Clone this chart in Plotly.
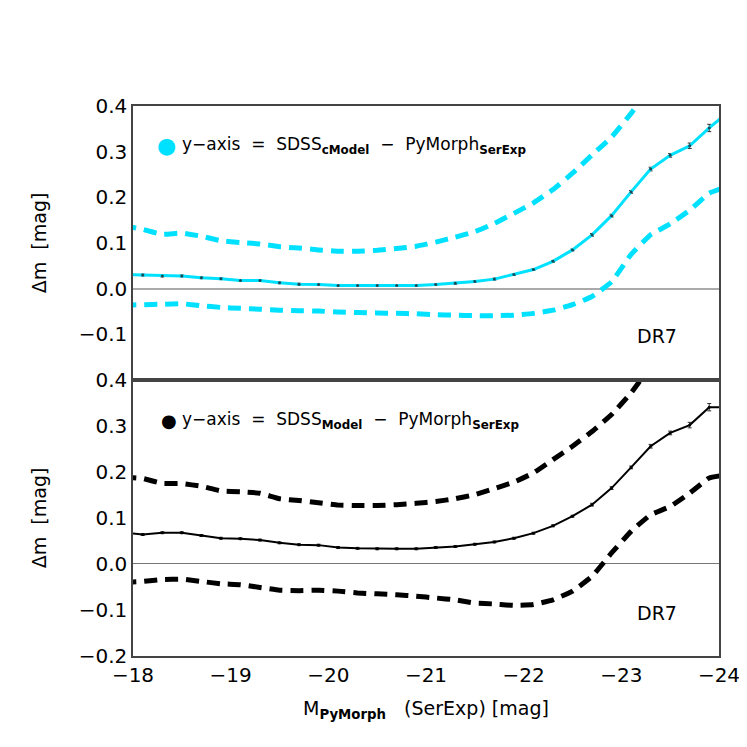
import plotly.graph_objects as go

# bin centres of absolute magnitude M_PyMorph (SerExp)
mag_bins = [-17.9, -18.1, -18.3, -18.5, -18.7, -18.9, -19.1, -19.3, -19.5, -19.7,
            -19.9, -20.1, -20.3, -20.5, -20.7, -20.9, -21.1, -21.3, -21.5, -21.7,
            -21.9, -22.1, -22.3, -22.5, -22.7, -22.9, -23.1, -23.3, -23.5, -23.7,
            -23.9, -24.1]

# top panel: SDSS cModel - PyMorph SerExp
cmodel_med = [0.031, 0.030, 0.028, 0.028, 0.024, 0.022, 0.018, 0.018, 0.013, 0.010,
              0.009, 0.007, 0.007, 0.007, 0.007, 0.007, 0.009, 0.012, 0.016, 0.021,
              0.031, 0.042, 0.060, 0.085, 0.118, 0.160, 0.212, 0.262, 0.292, 0.313,
              0.352, 0.388]
cmodel_hi = [0.138, 0.130, 0.119, 0.122, 0.115, 0.105, 0.101, 0.098, 0.092, 0.089,
             0.085, 0.082, 0.082, 0.084, 0.088, 0.093, 0.102, 0.113, 0.125, 0.143,
             0.165, 0.188, 0.217, 0.253, 0.293, 0.332, 0.384, 0.440, 0.490, 0.540,
             0.580, 0.620]
cmodel_lo = [-0.036, -0.035, -0.034, -0.033, -0.037, -0.041, -0.043, -0.045, -0.047, -0.048,
             -0.049, -0.051, -0.052, -0.053, -0.054, -0.055, -0.057, -0.058, -0.059, -0.059,
             -0.058, -0.054, -0.047, -0.035, -0.017, 0.015, 0.075, 0.118, 0.142, 0.172,
             0.209, 0.225]

# bottom panel: SDSS Model - PyMorph SerExp
model_med = [0.069, 0.064, 0.068, 0.068, 0.062, 0.056, 0.055, 0.052, 0.046, 0.042,
             0.041, 0.036, 0.034, 0.033, 0.033, 0.033, 0.036, 0.038, 0.043, 0.048,
             0.056, 0.067, 0.083, 0.104, 0.129, 0.165, 0.210, 0.256, 0.285, 0.302,
             0.341, 0.341]
model_hi = [0.189, 0.186, 0.175, 0.175, 0.169, 0.159, 0.157, 0.154, 0.142, 0.138,
            0.133, 0.128, 0.127, 0.127, 0.129, 0.132, 0.136, 0.142, 0.151, 0.164,
            0.178, 0.198, 0.227, 0.256, 0.288, 0.325, 0.372, 0.430, 0.480, 0.530,
            0.570, 0.610]
model_lo = [-0.040, -0.038, -0.034, -0.033, -0.038, -0.043, -0.045, -0.051, -0.057, -0.058,
            -0.057, -0.059, -0.063, -0.065, -0.067, -0.070, -0.074, -0.078, -0.085, -0.087,
            -0.090, -0.088, -0.078, -0.059, -0.027, 0.024, 0.071, 0.107, 0.125, 0.154,
            0.187, 0.195]

# error on the median
med_err = [0.002, 0.002, 0.002, 0.002, 0.002, 0.002, 0.002, 0.002, 0.002, 0.002,
           0.002, 0.002, 0.002, 0.002, 0.002, 0.002, 0.002, 0.002, 0.002, 0.002,
           0.002, 0.002, 0.002, 0.002, 0.003, 0.003, 0.003, 0.004, 0.004, 0.006,
           0.008, 0.009]

legend_top = "y\u2212axis  =  SDSS<sub><b>cModel</b></sub>  \u2212  PyMorph<sub><b>SerExp</b></sub>"
legend_bot = "y\u2212axis  =  SDSS<sub><b>Model</b></sub>  \u2212  PyMorph<sub><b>SerExp</b></sub>"

CYAN = "#00E1FF"
FONT = "DejaVu Sans"
AX = "#444444"
DASH = dict(width=5, dash="13px,8px", shape="spline", smoothing=0.35)

fig = go.Figure()

# ---- top panel (x2, y2)
for yy in (cmodel_hi, cmodel_lo):
    fig.add_trace(go.Scatter(x=mag_bins, y=yy, xaxis="x2", yaxis="y2", mode="lines",
                             line=dict(color=CYAN, **DASH), showlegend=False, hoverinfo="skip"))
fig.add_trace(go.Scatter(x=mag_bins, y=cmodel_med, xaxis="x2", yaxis="y2", mode="lines+markers",
                         line=dict(color=CYAN, width=3),
                         marker=dict(color="#1a4a55", size=3),
                         error_y=dict(type="data", array=med_err, color="#333333", thickness=1, width=2),
                         showlegend=False))

# ---- bottom panel (x, y)
for yy in (model_hi, model_lo):
    fig.add_trace(go.Scatter(x=mag_bins, y=yy, xaxis="x", yaxis="y", mode="lines",
                             line=dict(color="black", **DASH), showlegend=False, hoverinfo="skip"))
fig.add_trace(go.Scatter(x=mag_bins, y=model_med, xaxis="x", yaxis="y", mode="lines+markers",
                         line=dict(color="black", width=2),
                         marker=dict(color="black", size=3),
                         error_y=dict(type="data", array=med_err, color="#333333", thickness=1, width=2),
                         showlegend=False))

split = 276 / 550
YR_BOT = [-0.2001, 0.4001]
YR_TOP = [-0.1999, 0.4001]
XR = [-18, -24]          # axis shown reversed (bright to the right)
XR_TICK = [-24, -18]     # same span, used only for symmetric tick marks

# main axes: frame line + labels
xmain = dict(range=XR, showline=True, linecolor=AX, linewidth=1.5, mirror=True,
             tickmode="linear", tick0=-18, dtick=1, ticks="",
             showgrid=False, zeroline=False)
ymain = dict(showline=True, linecolor=AX, linewidth=1.5, mirror=True,
             tickmode="linear", tick0=0, dtick=0.1, ticks="",
             showgrid=False, tickformat=".1f",
             tickfont=dict(family=FONT, size=20, color="black"))


def tick_axis(over, anchor, rng, tick0, dtick, length, color):
    return dict(overlaying=over, anchor=anchor, range=rng, tickmode="linear",
                tick0=tick0, dtick=dtick, ticks="inside", ticklen=length,
                tickcolor=color, tickwidth=1, mirror="ticks", showline=False,
                showticklabels=False, showgrid=False, zeroline=False)


fig.update_layout(
    width=747, height=747,
    margin=dict(l=125, r=36, t=98, b=99),
    paper_bgcolor="white", plot_bgcolor="white",
    font=dict(family=FONT, color="black"),
    showlegend=False,
    xaxis=dict(**xmain, anchor="y", showticklabels=True,
               tickfont=dict(family=FONT, size=20, color="black")),
    xaxis2=dict(**xmain, anchor="y2", showticklabels=False),
    yaxis=dict(**ymain, domain=[0, split], anchor="x", range=YR_BOT,
               zeroline=True, zerolinecolor="#777777", zerolinewidth=1),
    yaxis2=dict(**ymain, domain=[split, 1], anchor="x2", range=YR_TOP,
                zeroline=True, zerolinecolor="#aaaaaa", zerolinewidth=2),
    # tick-mark axes (major and minor) for both panels
    xaxis3=tick_axis("x", "y", XR_TICK, -24, 1, 7, AX),
    xaxis4=tick_axis("x", "y", XR_TICK, -24, 0.1, 4, "#666666"),
    xaxis5=tick_axis("x2", "y2", XR_TICK, -24, 1, 7, AX),
    xaxis6=tick_axis("x2", "y2", XR_TICK, -24, 0.1, 4, "#666666"),
    yaxis3=tick_axis("y", "x", YR_BOT, 0, 0.1, 10, AX),
    yaxis4=tick_axis("y", "x", YR_BOT, 0, 0.01, 5, "#999999"),
    yaxis5=tick_axis("y2", "x2", YR_TOP, 0, 0.1, 10, AX),
    yaxis6=tick_axis("y2", "x2", YR_TOP, 0, 0.01, 5, "#999999"),
    annotations=[
        # legends
        dict(text="\u25CF", xref="paper", yref="paper", x=(158 - 125) / 586, y=(648 - 137) / 550,
             xanchor="center", yanchor="middle", showarrow=False,
             font=dict(family=FONT, size=22, color=CYAN)),
        dict(text=legend_top, xref="paper", yref="paper", x=(172 - 125) / 586, y=(648 - 137) / 550,
             xanchor="left", yanchor="middle", showarrow=False,
             font=dict(family=FONT, size=17, color="black")),
        dict(text="\u25CF", xref="paper", yref="paper", x=(161 - 125) / 586, y=(648 - 412) / 550,
             xanchor="center", yanchor="middle", showarrow=False,
             font=dict(family=FONT, size=18, color="black")),
        dict(text=legend_bot, xref="paper", yref="paper", x=(172 - 125) / 586, y=(648 - 412) / 550,
             xanchor="left", yanchor="middle", showarrow=False,
             font=dict(family=FONT, size=17, color="black")),
        # panel labels
        dict(text="DR7", xref="x2 domain", yref="y2 domain", x=0.895, y=(372 - 328) / 274,
             xanchor="center", yanchor="middle", showarrow=False,
             font=dict(family=FONT, size=19, color="black")),
        dict(text="DR7", xref="x domain", yref="y domain", x=0.895, y=(648 - 605) / 276,
             xanchor="center", yanchor="middle", showarrow=False,
             font=dict(family=FONT, size=19, color="black")),
        # axis titles
        dict(text="\u0394m  [mag]", xref="paper", yref="y2 domain", x=-0.16, y=0.5,
             xanchor="center", yanchor="middle", textangle=-90, showarrow=False,
             font=dict(family=FONT, size=19, color="black")),
        dict(text="\u0394m  [mag]", xref="paper", yref="y domain", x=-0.16, y=0.5,
             xanchor="center", yanchor="middle", textangle=-90, showarrow=False,
             font=dict(family=FONT, size=19, color="black")),
        dict(text="M<sub><b>PyMorph</b></sub>   (SerExp) [mag]", xref="paper", yref="paper",
             x=0.5, y=-0.098, xanchor="center", yanchor="middle", showarrow=False,
             font=dict(family=FONT, size=19, color="black")),
    ],
)

fig.write_html("out.html")
